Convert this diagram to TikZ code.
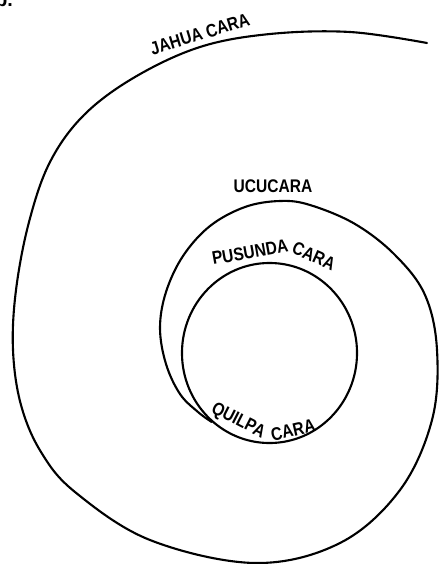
\documentclass[tikz,border=0pt]{standalone}
\usepackage{fontspec}
\setmainfont{Liberation Sans}
\newfontfamily\zonefont[FakeStretch=0.85]{Liberation Sans}
\usetikzlibrary{positioning,shapes.geometric}
\tikzset{
  spiral/.style={line width=1.5pt, line cap=round, line join=round},
  ring/.style={draw, ellipse, line width=1.5pt, inner sep=0pt,
               minimum width=4.375cm, minimum height=4.5cm},
  zone/.style={font=\zonefont\fontsize{13}{15}\selectfont\bfseries, inner sep=0pt},
}
\begin{document}
\begin{tikzpicture}[x=0.025cm,y=-0.025cm]
\useasboundingbox (0,0) rectangle (440,564);
% figure letter (cut by the page edge)
\node[font=\fontsize{14}{16}\selectfont\bfseries, anchor=base west, inner sep=0pt] (fig) at (-5,7) {b.};
% innermost ring
\node[ring] (quilpa) at (269.5,353) {};
% the spiral, from the outer end inwards
\draw[spiral] plot[smooth, tension=0.6] coordinates {
  (427,43) (350,32) (270,34) (200,47) (135,77) (84,115) (50,162) (29,222)
  (16,290) (13,350) (21,405) (41,452) (75,492) (150,540) (255,563) (340,543)
  (400,490) (432,420) (437,350) (425,295) (395,255) (355,224) (310,205)
  (280,201) (245,207) (210,226) (183,256) (166,292) (160,328) (166,364)
  (180,394) (198,412) (quilpa.230)};
% labels
\node[zone, rotate=17] (jahua) at (200,34) {JAHUA CARA};
\node[zone] (ucu) at (273,186) {UCUCARA};
\node[zone, rotate=10] (pusunda) at (250,252) {PUSUNDA};
\node[zone, rotate=-24] (pcara) at (314,256) {CARA};
\node[zone, rotate=-27] (quilpa1) at (238,421) {QUILPA};
\node[zone, rotate=13] (qcara) at (293,430) {CARA};
\end{tikzpicture}
\end{document}
